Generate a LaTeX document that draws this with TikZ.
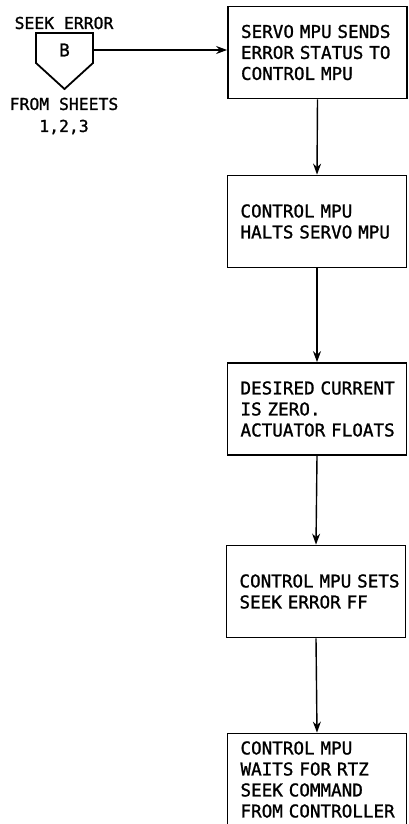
\documentclass[tikz,border=0pt]{standalone}
\usepackage{fontspec}
\setmonofont[FakeBold=1.2,AutoFakeBold=1.2]{DejaVu Sans Mono}
\usetikzlibrary{arrows.meta}
\begin{document}
\begin{tikzpicture}[x=1pt,y=-1pt,
  every node/.style={font=\ttfamily\fontsize{17.6}{21}\selectfont},
  procbox/.style={draw, line width=1.8pt, minimum width=179pt, minimum height=92pt,
    text width=153pt, align=left, inner sep=0pt},
  lbl/.style={font=\ttfamily\fontsize{16.4}{22}\selectfont, inner sep=0pt, align=center},
  arr/.style={line width=1.4pt, -{Stealth[length=11pt,width=8pt]}}]
\useasboundingbox (0,0) rectangle (409,824);
\begin{scope}
\clip (0,0) rectangle (409,824);
% off-page connector
\draw[line width=1.8pt, line join=miter] (36,33) -- (93,33) -- (93,63) -- (64.5,89) -- (36,63) -- cycle;
\node[inner sep=0pt] (b) at (64.5,50) {B};
\coordinate (pr) at (93,50);
\node[lbl] (top) at (64,23) {SEEK~ERROR};
\node[lbl] (from) at (64,116) {FROM~SHEETS\\1,2,3};
% process boxes
\node[procbox] (s1) at (317.5,52.5) {SERVO~MPU~SENDS\\ERROR~STATUS~TO\\CONTROL~MPU};
\node[procbox] (s2) at (317,221.5) {CONTROL~MPU\\HALTS~SERVO~MPU};
\node[procbox] (s3) at (317,409) {DESIRED~CURRENT\\IS~ZERO.\\ACTUATOR~FLOATS};
\node[procbox] (s4) at (316,591.5) {CONTROL~MPU~SETS\\SEEK~ERROR~FF};
\node[procbox] (s5) at (317,779.5) {CONTROL~MPU\\WAITS~FOR~RTZ\\SEEK~COMMAND\\FROM~CONTROLLER};
% connectors
\draw[arr] (pr) -- (pr -| s1.west);
\draw[arr] (s1.south) -- (s2.north);
\draw[arr] (s2.south) -- (s3.north);
\draw[arr] (s3.south) -- (s4.north);
\draw[arr] (s4.south) -- (s5.north);
\end{scope}
\end{tikzpicture}
\end{document}
